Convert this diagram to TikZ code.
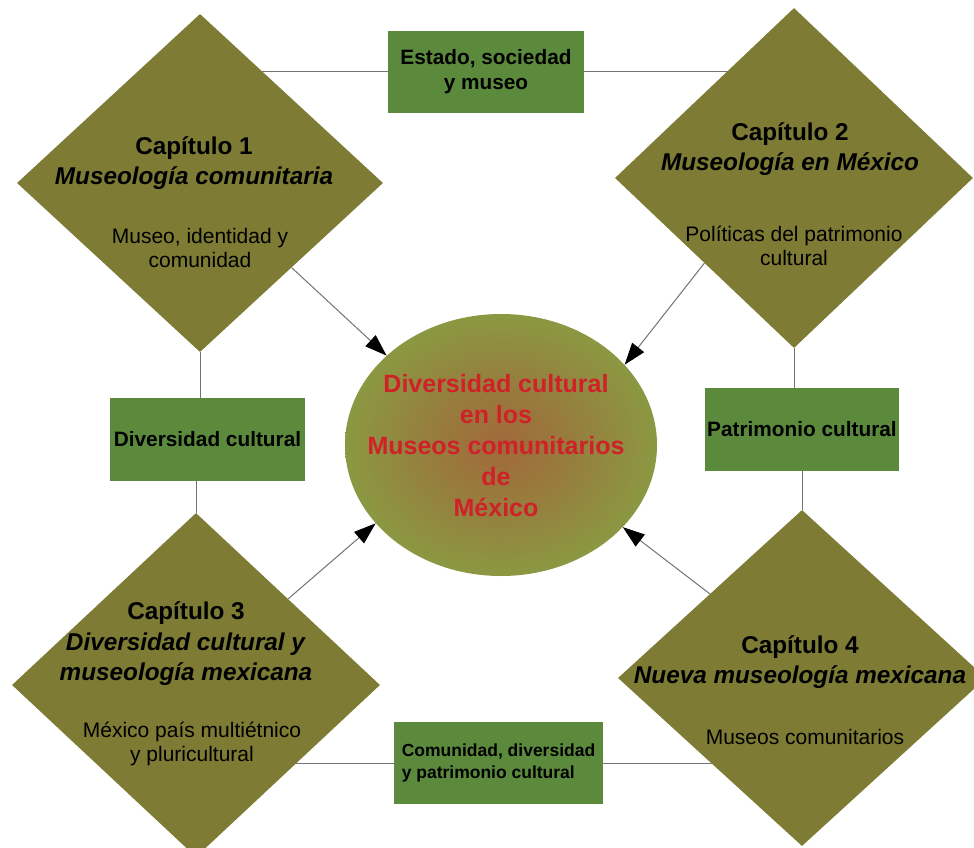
\documentclass[tikz,border=0pt]{standalone}
\usepackage{fontspec}
\setmainfont{Liberation Sans}
\usetikzlibrary{shapes.geometric,arrows.meta,backgrounds}
\definecolor{olivedia}{RGB}{125,123,52}
\definecolor{boxg}{RGB}{91,138,61}
\definecolor{redt}{RGB}{208,32,40}
\definecolor{lineg}{RGB}{115,115,115}
\definecolor{elin}{RGB}{162,104,58}
\definecolor{elmid}{RGB}{150,126,62}
\definecolor{elout}{RGB}{139,152,66}
\pgfdeclareradialshading{elshade}{\pgfpoint{0bp}{0bp}}{color(0bp)=(elin); color(12bp)=(elmid); color(25bp)=(elout); color(50bp)=(elout)}
\begin{document}
\begin{tikzpicture}[x=1pt,y=-1pt,
  dia/.style={diamond, fill=olivedia, draw=none, inner sep=0pt},
  gbox/.style={rectangle, fill=boxg, draw=none, inner sep=0pt, align=center,
    font=\fontsize{20.8}{25}\selectfont\bfseries},
  ttl/.style={inner sep=0pt, align=center, font=\fontsize{24.3}{30.5}\selectfont\bfseries},
  subt/.style={inner sep=0pt, align=center, font=\fontsize{21}{23.5}\selectfont},
  conn/.style={draw=lineg, line width=1pt},
  arr/.style={draw=lineg, line width=1pt, -{Triangle[length=22pt,width=15pt,color=black]}}
]
\useasboundingbox (0,0) rectangle (974,848);

% diamonds
\node[dia, minimum width=366pt, minimum height=338pt] (d1) at (200,183) {};
\node[dia, minimum width=358pt, minimum height=340pt] (d2) at (794,178) {};
\node[dia, minimum width=368pt, minimum height=344pt] (d3) at (196,685) {};
\node[dia, minimum width=368pt, minimum height=336pt] (d4) at (802,678) {};

% boxes
\node[gbox, minimum width=196pt, minimum height=82pt] (bA) at (486,72) {Estado, sociedad\\y museo};
\node[gbox, minimum width=195pt, minimum height=83pt] (bB) at (207.5,439.5) {Diversidad cultural};
\node[gbox, minimum width=194pt, minimum height=83pt] (bC) at (802,429.5) {Patrimonio cultural};
\node[gbox, minimum width=209pt, minimum height=82pt, align=left,
  font=\fontsize{17.5}{22}\selectfont\bfseries] (bD) at (498.5,763) {Comunidad, diversidad\\y patrimonio cultural};

% central ellipse
\node[ellipse, shading=elshade, draw=none, minimum width=312pt, minimum height=262pt, inner sep=0pt] (el) at (501,445) {};
\node[inner sep=0pt, align=center, text=redt, font=\fontsize{25}{31}\selectfont\bfseries] (elt) at (496,446)
  {Diversidad cultural\\en los\\Museos comunitarios\\de\\México};

% diamond texts
\node[ttl] (t1) at (194,163) {Capítulo 1\\\textit{Museología comunitaria}};
\node[subt] (s1) at (200,248) {Museo, identidad y\\comunidad};
\node[ttl] (t2) at (790,149) {Capítulo 2\\\textit{Museología en México}};
\node[subt] (s2) at (794,246) {Políticas del patrimonio\\cultural};
\node[ttl] (t3) at (186,644) {Capítulo 3\\\textit{Diversidad cultural y}\\\textit{museología mexicana}};
\node[subt] (s3) at (192,744) {México país multiétnico\\y pluricultural};
\node[ttl] (t4) at (800,662) {Capítulo 4\\\textit{Nueva museología mexicana}};
\node[subt] (s4) at (805,737) {Museos comunitarios};

% background: white page and connecting lines
\begin{scope}[on background layer]
  \fill[white] (0,0) rectangle (974,848);
  \draw[conn] (bA.center) -- (bA.center -| d1.center);
  \draw[conn] (bA.center) -- (bA.center -| d2.center);
  \draw[conn] (d1.south) -- (d1.south |- bB.center);
  \draw[conn] (d3.north) -- (d3.north |- bB.center);
  \draw[conn] (d2.south) -- (d2.south |- bC.center);
  \draw[conn] (d4.north) -- (d4.north |- bC.center);
  \draw[conn] (bD.center) -- (bD.center -| d3.center);
  \draw[conn] (bD.center) -- (bD.center -| d4.center);
\end{scope}

% arrows into the ellipse
\draw[arr] (d1.south east) -- (el.142);
\draw[arr] (d2.south west) -- (el.33);
\draw[arr] (d3.north east) -- (el.212);
\draw[arr] (d4.north west) -- (el.326);
\end{tikzpicture}
\end{document}
